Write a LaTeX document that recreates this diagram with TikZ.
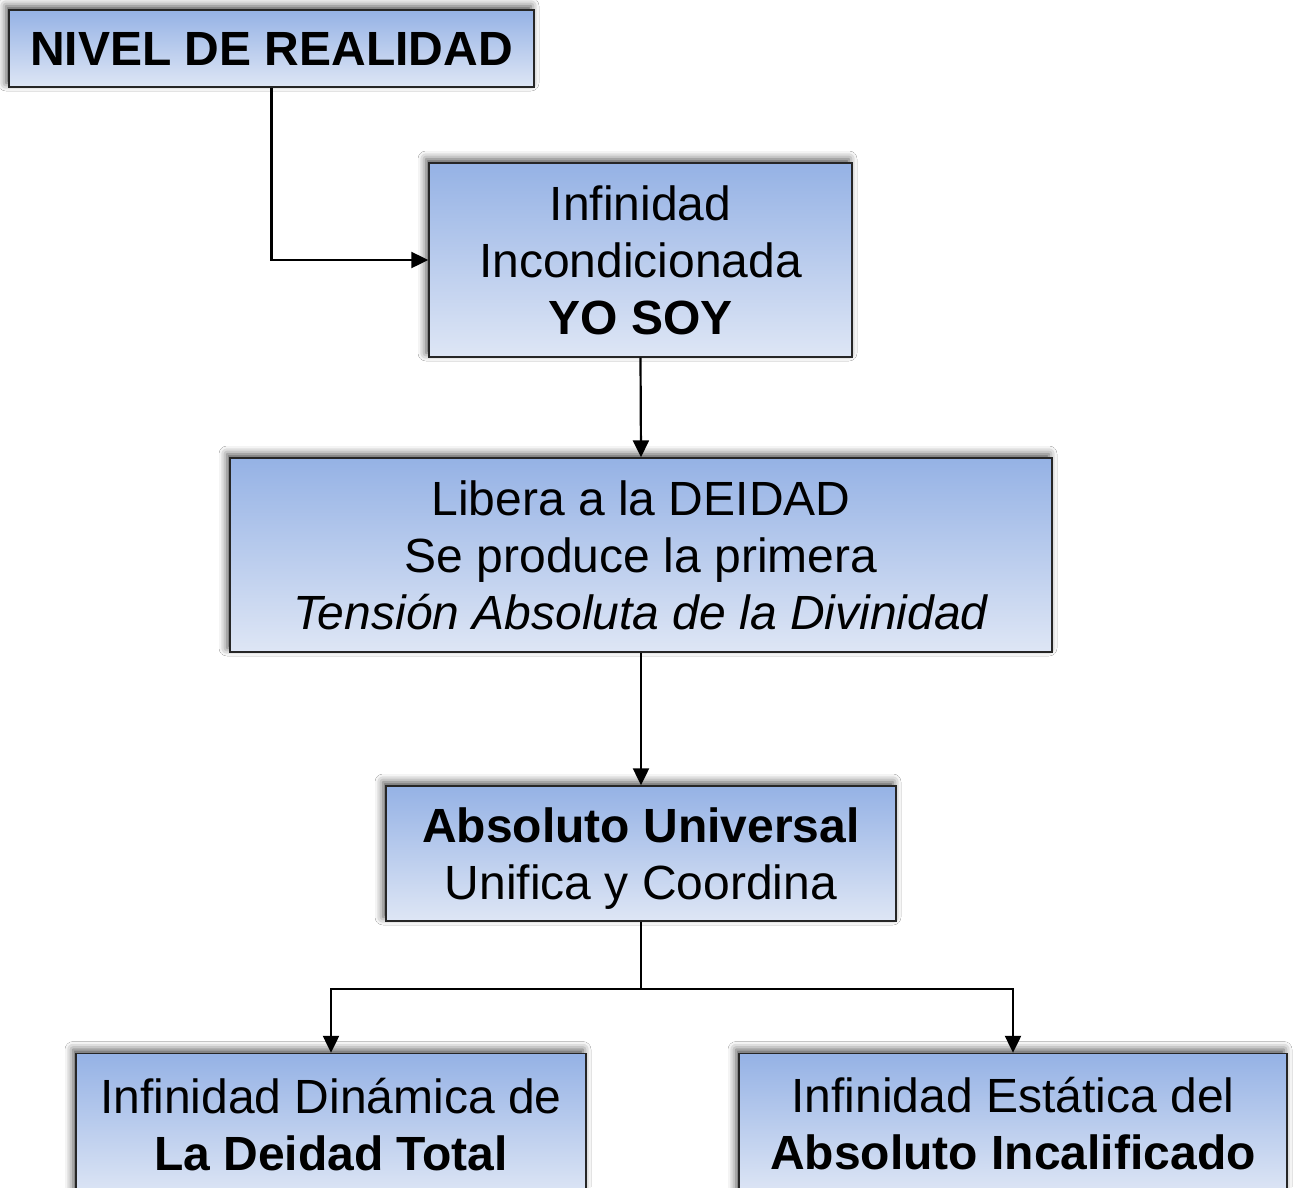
\documentclass[tikz,border=0pt]{standalone}
\usepackage{fontspec}
\setmainfont{Liberation Sans}
\usetikzlibrary{arrows.meta,shadows.blur,calc}
\definecolor{boxtop}{HTML}{95B2E5}
\definecolor{boxbot}{HTML}{DEE6F5}
\tikzset{
  box/.style={draw=black!85, line width=1.4pt, top color=boxtop, bottom color=boxbot,
    align=center, inner sep=0pt, font=\fontsize{48}{57}\selectfont,
    blur shadow={shadow xshift=-3pt, shadow yshift=4pt, shadow blur radius=8pt, shadow opacity=70}},
  conn/.style={draw=black, line width=2.2pt, -{Triangle[length=17pt,width=16pt]}},
  plain/.style={draw=black, line width=2.2pt}
}
\begin{document}
\begin{tikzpicture}[x=1pt,y=-1pt]
\clip (0,0) rectangle (1295,1187);
\fill[white] (0,0) rectangle (1295,1187);
\node[box, minimum width=525pt, minimum height=77pt] (n1) at (271.5,48.5) {\textbf{NIVEL DE REALIDAD}};
\node[box, minimum width=423pt, minimum height=194pt] (n2) at (640.5,260) {Infinidad\\Incondicionada\\\textbf{YO SOY}};
\node[box, minimum width=822pt, minimum height=194pt] (n3) at (641,555) {Libera a la DEIDAD\\Se produce la primera\\\textit{Tensión Absoluta de la Divinidad}};
\node[box, minimum width=510pt, minimum height=135pt] (n4) at (641,853.5) {\rule{0pt}{45pt}\textbf{Absoluto Universal}\\Unifica y Coordina};
\node[box, minimum width=510pt, minimum height=143pt] (n5) at (331,1125) {Infinidad Dinámica de\\\textbf{La Deidad Total}};
\node[box, minimum width=548pt, minimum height=141pt] (n6) at (1013,1124) {Infinidad Estática del\\\textbf{Absoluto Incalificado}};
\draw[conn] (n1.south) |- (n2.west);
\draw[conn] (n2.south) -- (n3.north);
\draw[conn] (n3.south) -- (n4.north);
\coordinate (j) at ($(n4.south)+(0,67)$);
\draw[plain] (n4.south) -- (j);
\draw[conn] (j) -| (n5.north);
\draw[conn] (j) -| (n6.north);
\end{tikzpicture}
\end{document}
